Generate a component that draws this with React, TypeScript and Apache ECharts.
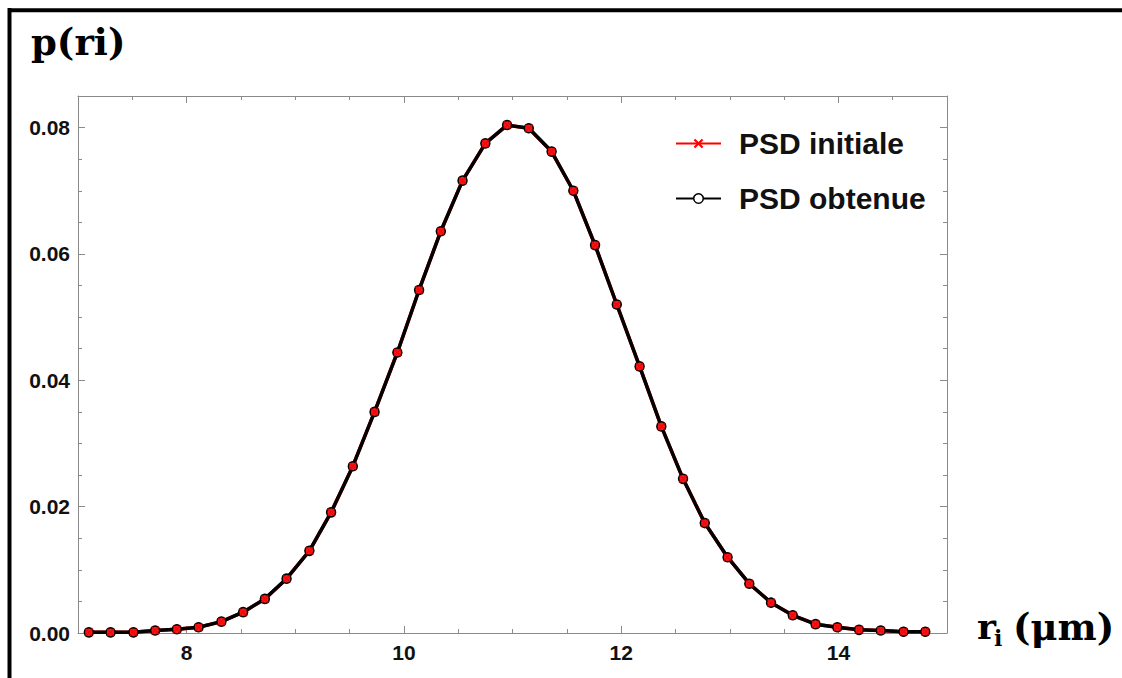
import React, { useEffect, useRef } from 'react';
import * as echarts from 'echarts';

// r_i values (µm)
const radii = [
  7.10, 7.30, 7.51, 7.71, 7.91, 8.11, 8.32, 8.52, 8.72, 8.92,
  9.13, 9.33, 9.53, 9.73, 9.94, 10.14, 10.34, 10.54, 10.75, 10.95,
  11.15, 11.36, 11.56, 11.76, 11.96, 12.17, 12.37, 12.57, 12.77, 12.98,
  13.18, 13.38, 13.58, 13.79, 13.99, 14.19, 14.39, 14.60, 14.80,
];

const psdInitiale = [
  0.0001, 0.0001, 0.0001, 0.0004, 0.0006, 0.0009, 0.0018, 0.0033, 0.0054, 0.0086,
  0.0130, 0.0191, 0.0264, 0.0350, 0.0444, 0.0543, 0.0636, 0.0716, 0.0775, 0.0804,
  0.0799, 0.0762, 0.0700, 0.0614, 0.0520, 0.0422, 0.0327, 0.0244, 0.0174, 0.0120,
  0.0078, 0.0048, 0.0028, 0.0014, 0.0009, 0.0005, 0.0004, 0.0002, 0.0002,
];

const psdObtenue = [
  0.0001, 0.0001, 0.0001, 0.0004, 0.0006, 0.0009, 0.0018, 0.0033, 0.0054, 0.0086,
  0.0130, 0.0191, 0.0264, 0.0350, 0.0444, 0.0543, 0.0636, 0.0716, 0.0775, 0.0804,
  0.0799, 0.0762, 0.0700, 0.0614, 0.0520, 0.0422, 0.0327, 0.0244, 0.0174, 0.0120,
  0.0078, 0.0048, 0.0028, 0.0014, 0.0009, 0.0005, 0.0004, 0.0002, 0.0002,
];

const xMajorTicks = [8, 10, 12, 14];
const yMajorTicks = [0, 0.02, 0.04, 0.06, 0.08];
const seriesNames = ['PSD initiale', 'PSD obtenue'];
const yTitle = 'p(ri)';
const xTitleMain = 'r';
const xTitleSub = 'i';
const xTitleUnit = '(μm)';

const AXIS_GRAY = '#8a8a8a';
const CROSS = 'path://M0,1.6L1.6,0L5,3.4L8.4,0L10,1.6L6.6,5L10,8.4L8.4,10L5,6.6L1.6,10L0,8.4L3.4,5Z';

export default function App() {
  const ref = useRef<HTMLDivElement>(null);

  useEffect(() => {
    const chart = echarts.init(ref.current as HTMLDivElement, null, { renderer: 'svg' });

    const initData = radii.map((r, i) => [r, psdInitiale[i]]);
    const obtData = radii.map((r, i) => [r, psdObtenue[i]]);

    const labelFont = {
      fontFamily: 'Liberation Sans, Arial, sans-serif',
      fontWeight: 'bold' as const,
      fontSize: 21,
      color: '#111',
    };

    const minorX = (position: 'top' | 'bottom', showLabels: boolean) => ({
      type: 'value',
      position,
      min: 7,
      max: 15,
      interval: 0.5,
      axisLine: { show: true, onZero: false, lineStyle: { color: AXIS_GRAY, width: 1 } },
      axisTick: { show: true, inside: true, length: 4, lineStyle: { color: AXIS_GRAY, width: 1 } },
      axisLabel: showLabels
        ? { show: true, customValues: xMajorTicks, margin: 9, formatter: (v: number) => String(v), ...labelFont }
        : { show: false },
      splitLine: { show: false },
    });
    const majorX = (position: 'top' | 'bottom') => ({
      type: 'value',
      position,
      min: 7,
      max: 15,
      axisLine: { show: false, onZero: false },
      axisTick: { show: true, inside: true, length: 7, customValues: xMajorTicks, lineStyle: { color: AXIS_GRAY, width: 1 } },
      axisLabel: { show: false },
      splitLine: { show: false },
    });
    const minorY = (position: 'left' | 'right', showLabels: boolean) => ({
      type: 'value',
      position,
      min: 0,
      max: 0.085,
      interval: 0.005,
      axisLine: { show: true, onZero: false, lineStyle: { color: AXIS_GRAY, width: 1 } },
      axisTick: { show: true, inside: true, length: 4, lineStyle: { color: AXIS_GRAY, width: 1 } },
      axisLabel: showLabels
        ? { show: true, customValues: yMajorTicks, margin: 8, formatter: (v: number) => v.toFixed(2), ...labelFont }
        : { show: false },
      splitLine: { show: false },
    });
    const majorY = (position: 'left' | 'right') => ({
      type: 'value',
      position,
      min: 0,
      max: 0.085,
      axisLine: { show: false, onZero: false },
      axisTick: { show: true, inside: true, length: 7, customValues: yMajorTicks, lineStyle: { color: AXIS_GRAY, width: 1 } },
      axisLabel: { show: false },
      splitLine: { show: false },
    });

    chart.setOption({
      animation: false,
      backgroundColor: '#ffffff',
      grid: { left: 78, top: 96, right: 175, bottom: 45, containLabel: false, outerBoundsMode: 'none' },
      xAxis: [minorX('bottom', true), majorX('bottom'), minorX('top', false), majorX('top')],
      yAxis: [minorY('left', true), majorY('left'), minorY('right', false), majorY('right')],
      legend: {
        show: true,
        orient: 'vertical',
        left: 670,
        top: 123,
        itemWidth: 45,
        itemHeight: 12,
        itemGap: 24,
        data: [
          { name: seriesNames[0] },
          { name: seriesNames[1], itemStyle: { color: '#ffffff', borderColor: '#000000', borderWidth: 1.5 } },
        ],
        textStyle: {
          fontFamily: 'Liberation Sans, Arial, sans-serif',
          fontWeight: 'bold',
          fontSize: 30,
          color: '#111',
          lineHeight: 31,
          padding: [0, 0, 0, 13],
        },
      },
      series: [
        {
          name: seriesNames[0],
          type: 'line',
          xAxisIndex: 0,
          yAxisIndex: 0,
          data: initData,
          symbol: CROSS,
          symbolSize: 9,
          showSymbol: true,
          lineStyle: { color: '#ff0000', width: 3.5 },
          itemStyle: { color: '#ff0000' },
          z: 2,
        },
        {
          name: seriesNames[1],
          type: 'line',
          xAxisIndex: 0,
          yAxisIndex: 0,
          data: obtData,
          symbol: 'circle',
          symbolSize: 9,
          showSymbol: true,
          lineStyle: { color: '#000000', width: 3.5 },
          itemStyle: { color: '#e82020', borderColor: '#000000', borderWidth: 1.5 },
          z: 3,
        },
        {
          name: 'overlay',
          type: 'scatter',
          xAxisIndex: 0,
          yAxisIndex: 0,
          data: initData,
          symbol: CROSS,
          symbolSize: 8,
          itemStyle: { color: '#ff0000' },
          z: 4,
          silent: true,
        },
      ],
      graphic: [
        { type: 'line', shape: { x1: 9.5, y1: 8, x2: 9.5, y2: 678 }, style: { stroke: '#000', lineWidth: 4 }, z: 100 },
        { type: 'line', shape: { x1: 8, y1: 10.3, x2: 1122, y2: 10.3 }, style: { stroke: '#000', lineWidth: 4 }, z: 100 },
        {
          type: 'text', x: 31, y: 42, z: 100,
          style: { text: yTitle, font: 'bold 37px "DejaVu Serif", serif', fill: '#000', textVerticalAlign: 'middle' },
        },
        {
          type: 'text', x: 977, y: 626, z: 100,
          style: { text: xTitleMain, font: 'bold 36px "DejaVu Serif", serif', fill: '#000', textVerticalAlign: 'middle' },
        },
        {
          type: 'text', x: 994, y: 638, z: 100,
          style: { text: xTitleSub, font: 'bold 22px "DejaVu Serif", serif', fill: '#000', textVerticalAlign: 'middle' },
        },
        {
          type: 'text', x: 1013, y: 627, z: 100,
          style: { text: xTitleUnit, font: 'bold 37px "DejaVu Serif", serif', fill: '#000', textVerticalAlign: 'middle' },
        },
      ],
    });

    return () => chart.dispose();
  }, []);

  return (
    <div
      ref={ref}
      style={{ position: 'fixed', left: 0, top: 0, width: 1122, height: 678, background: '#fff' }}
    />
  );
}
